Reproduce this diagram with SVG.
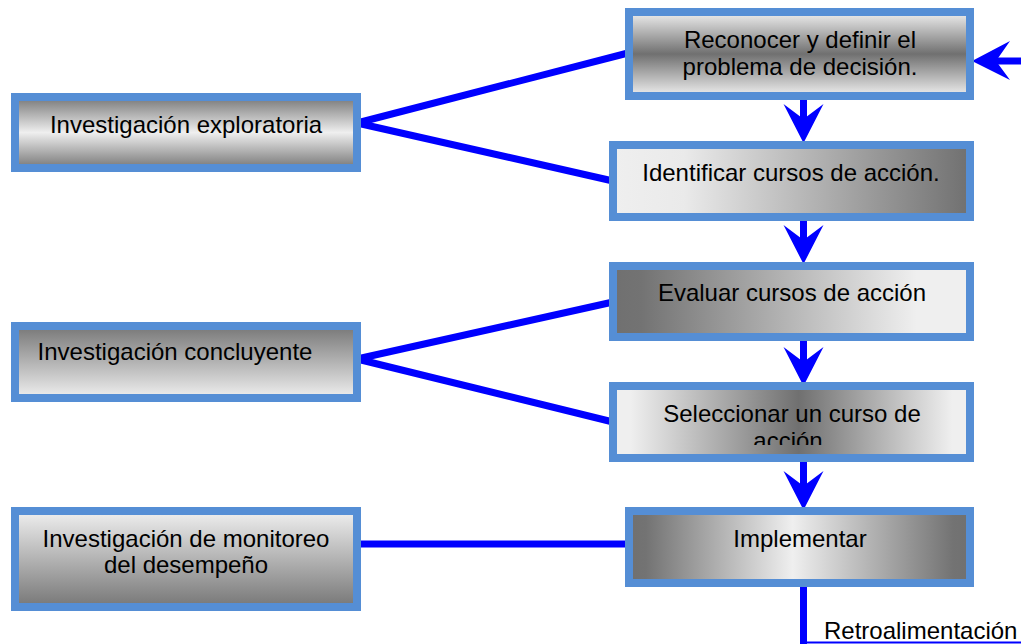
<svg xmlns="http://www.w3.org/2000/svg" width="1021" height="644" viewBox="0 0 1021 644">
<style>
.box{stroke:#558ED5;stroke-width:8}
.t{font-family:"Liberation Sans",Arial,sans-serif;font-size:24px;fill:#000;text-anchor:middle}
.ln{stroke:#0000FF;stroke-width:7;fill:none}
.hd{fill:#0000FF}
</style>
<defs>
<linearGradient id="gV_ldl" x1="0" y1="0" x2="0" y2="1"><stop offset="0" stop-color="#efefef"/><stop offset="0.5" stop-color="#707070"/><stop offset="1" stop-color="#efefef"/></linearGradient>
<linearGradient id="gV_dld" x1="0" y1="0" x2="0" y2="1"><stop offset="0" stop-color="#777"/><stop offset="0.5" stop-color="#efefef"/><stop offset="1" stop-color="#777"/></linearGradient>
<linearGradient id="gV_dl" x1="0" y1="0" x2="0" y2="1"><stop offset="0" stop-color="#777"/><stop offset="1" stop-color="#efefef"/></linearGradient>
<linearGradient id="gV_ld" x1="0" y1="0" x2="0" y2="1"><stop offset="0" stop-color="#efefef"/><stop offset="1" stop-color="#777"/></linearGradient>
<linearGradient id="gH_ld" x1="0" y1="0" x2="1" y2="0"><stop offset="0" stop-color="#efefef"/><stop offset="0.2" stop-color="#eaeaea"/><stop offset="1" stop-color="#707070"/></linearGradient>
<linearGradient id="gH_dl" x1="0" y1="0" x2="1" y2="0"><stop offset="0" stop-color="#707070"/><stop offset="0.08" stop-color="#737373"/><stop offset="0.85" stop-color="#efefef"/><stop offset="1" stop-color="#efefef"/></linearGradient>
<linearGradient id="gH_ldl" x1="0" y1="0" x2="1" y2="0"><stop offset="0" stop-color="#efefef"/><stop offset="0.05" stop-color="#efefef"/><stop offset="0.52" stop-color="#707070"/><stop offset="0.95" stop-color="#efefef"/><stop offset="1" stop-color="#efefef"/></linearGradient>
<linearGradient id="gH_dld" x1="0" y1="0" x2="1" y2="0"><stop offset="0" stop-color="#707070"/><stop offset="0.05" stop-color="#737373"/><stop offset="0.48" stop-color="#efefef"/><stop offset="0.95" stop-color="#737373"/><stop offset="1" stop-color="#707070"/></linearGradient>
<clipPath id="clipSel"><rect x="613" y="386" width="357" height="59"/></clipPath>
</defs>

<g id="connectors">
<line class="ln" x1="357" y1="123" x2="628" y2="53"/>
<line class="ln" x1="357" y1="123" x2="613" y2="181"/>
<line class="ln" x1="357" y1="359" x2="613" y2="302"/>
<line class="ln" x1="357" y1="359" x2="613" y2="422"/>
<line class="ln" x1="361" y1="544" x2="629" y2="544"/>
<line class="ln" x1="803.5" y1="100" x2="803.5" y2="122"/>
<path class="hd" d="M803.5,143 L783.5,104 L803.5,119 L823.5,104 Z"/>
<line class="ln" x1="803.5" y1="221" x2="803.5" y2="243"/>
<path class="hd" d="M803.5,264 L783.5,225 L803.5,240 L823.5,225 Z"/>
<line class="ln" x1="803.5" y1="341" x2="803.5" y2="365"/>
<path class="hd" d="M803.5,386 L783.5,347 L803.5,362 L823.5,347 Z"/>
<line class="ln" x1="803.5" y1="462" x2="803.5" y2="489"/>
<path class="hd" d="M803.5,510 L783.5,471 L803.5,486 L823.5,471 Z"/>
<line class="ln" x1="1021" y1="61" x2="995" y2="61"/>
<path class="hd" d="M972,61 L1010,41 L996,61 L1010,80 Z"/>
<line class="ln" x1="803.5" y1="587" x2="803.5" y2="644"/>
<line x1="800" y1="642.5" x2="1021" y2="642.5" stroke="#0000FF" stroke-width="2"/>
<text class="t" x="824" y="639" style="text-anchor:start">Retroalimentación</text>
</g>

<g id="node-reconocer">
<rect class="box" x="629" y="12" width="341" height="84" fill="url(#gV_ldl)"/>
<text class="t" x="800" y="48">Reconocer y definir el</text>
<text class="t" x="800" y="75">problema de decisión.</text>
</g>
<g id="node-identificar">
<rect class="box" x="613" y="145" width="357" height="72" fill="url(#gH_ld)"/>
<text class="t" x="791" y="181">Identificar cursos de acción.</text>
</g>
<g id="node-evaluar">
<rect class="box" x="613" y="266" width="357" height="71" fill="url(#gH_dl)"/>
<text class="t" x="792" y="301">Evaluar cursos de acción</text>
</g>
<g id="node-seleccionar">
<rect class="box" x="613" y="386" width="357" height="72" fill="url(#gH_ldl)"/>
<g clip-path="url(#clipSel)">
<text class="t" x="792" y="422">Seleccionar un curso de</text>
<text class="t" x="788" y="449">acción</text>
</g>
</g>
<g id="node-implementar">
<rect class="box" x="629" y="511" width="341" height="72" fill="url(#gH_dld)"/>
<text class="t" x="800" y="547">Implementar</text>
</g>
<g id="node-exploratoria">
<rect class="box" x="15" y="97" width="342" height="71" fill="url(#gV_dld)"/>
<text class="t" x="186" y="133">Investigación exploratoria</text>
</g>
<g id="node-concluyente">
<rect class="box" x="15" y="326" width="342" height="72" fill="url(#gV_dl)"/>
<text class="t" x="175" y="360">Investigación concluyente</text>
</g>
<g id="node-monitoreo">
<rect class="box" x="15" y="511" width="342" height="96" fill="url(#gV_ld)"/>
<text class="t" x="186" y="547">Investigación de monitoreo</text>
<text class="t" x="186" y="573">del desempeño</text>
</g>
</svg>
